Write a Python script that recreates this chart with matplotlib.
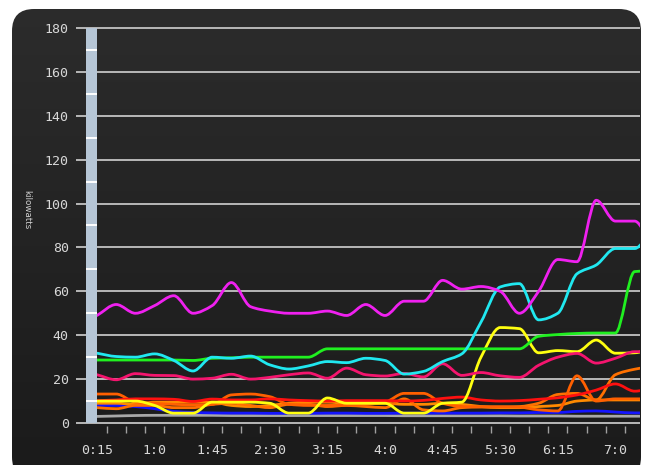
import numpy as np
import matplotlib
matplotlib.use("Agg")
import matplotlib.pyplot as plt
from matplotlib.path import Path
from matplotlib.patches import PathPatch, FancyBboxPatch, Rectangle

# sample times, minutes after midnight (every 15 min from 0:15)
times = [15 + 15 * k for k in range(30)]

tick_labels = ['0:15', '1:0', '1:45', '2:30', '3:15', '4:0', '4:45', '5:30', '6:15', '7:0']
tick_minutes = [15, 60, 105, 150, 195, 240, 285, 330, 375, 420]

gray = [3, 3.2, 3.4, 3.5, 3.5, 3.5, 3.5, 3.4, 3.4, 3.4, 3.4, 3.4, 3.4, 3.4, 3.4,
        3.4, 3.3, 3.3, 3.3, 3.3, 3.3, 3.3, 3.2, 3.2, 3.2, 3.1, 3.1, 3.1, 3.1, 3.1]
blue = [8, 8, 7.5, 6.5, 5.3, 4.8, 4.6, 4.5, 4.5, 4.4, 4.4, 4.4, 4.5, 4.5, 4.4,
        4.4, 4.5, 4.5, 4.5, 4.5, 4.5, 4.6, 4.6, 4.8, 4.8, 5.3, 5.5, 5, 4.6, 4.6]
orange_c = [9, 9, 8.5, 9.5, 9.5, 9.5, 9.5, 8, 7.5, 8, 9, 9.5, 9.5, 9, 9,
            9, 8.5, 8.5, 9, 8.5, 7.5, 7, 7, 7.5, 8, 10, 10.5, 10.5, 10.5, 10.5]
orange_b = [7, 6.5, 8, 8, 7, 7, 8.5, 9, 8, 7, 8.5, 8.5, 7.5, 8, 7.5,
            7, 11, 6, 5.5, 7, 7.3, 7.3, 7.5, 9, 13, 13.5, 10.5, 22, 24.5, 26]
orange_a = [13.2, 13.2, 9.5, 9, 8.5, 8.3, 8.5, 12.8, 13.2, 12, 8.5, 8, 8, 8.2, 8.5,
            9.5, 13.5, 13.5, 9, 7.5, 7.4, 7.4, 7.2, 6, 5.5, 21.5, 10, 11, 11, 11]
red = [10.2, 10.5, 11, 11, 10.8, 9.8, 10.9, 10.5, 10.5, 11, 10.5, 10.2, 10, 10.2, 10.2,
       10.2, 10, 10.3, 11.2, 11.8, 10.5, 10, 10.2, 10.8, 11.5, 12.8, 15, 17.8, 14.5, 16]
yellow = [10, 10, 10, 8, 4.5, 4.5, 9.5, 9.5, 9.5, 9, 4.5, 4.5, 11.4, 9, 9,
          9, 4.5, 4.5, 9, 9.5, 30, 43.5, 43, 32, 33, 32.5, 37.8, 31.8, 32, 34]
crimson = [22, 19.7, 22.5, 21.7, 21.6, 20, 20.4, 22.2, 20, 20.8, 22, 22.8, 20.4, 25, 22,
           21.4, 22.6, 21, 27, 21.7, 23, 21.5, 20.8, 26.3, 30, 31.7, 27.3, 29.5, 32.5, 32.5]
green = [28.7, 28.7, 28.7, 28.7, 28.7, 28.5, 29.5, 29.7, 30, 30, 30, 30, 33.8, 33.8, 33.8,
         33.8, 33.8, 33.8, 33.8, 33.8, 33.8, 33.8, 33.8, 39.5, 40.3, 40.8, 41, 41, 69, 69.5]
cyan = [31.8, 30.3, 30, 31.5, 28.5, 23.7, 30, 29.5, 30.5, 26.5, 24.6, 26, 28, 27.5, 29.5,
        28.5, 22.3, 23.5, 28, 31.5, 46, 62, 63.5, 47, 50, 68, 72, 79.5, 79.5, 90]
magenta = [49, 54, 50, 53.5, 58, 50, 53.5, 64, 53, 51, 50, 50, 51, 49, 54,
           49, 55.5, 55.5, 65, 61, 62.2, 60, 50, 60, 74.5, 73.5, 101.5, 92, 92, 78]

series = [
    (gray, '#a8a8a8'),
    (blue, '#1414ff'),
    (orange_c, '#ff8a00'),
    (orange_b, '#ff7000'),
    (orange_a, '#ff6000'),
    (red, '#ff1010'),
    (yellow, '#ffff10'),
    (crimson, '#f5146e'),
    (green, '#20f020'),
    (cyan, '#20e8f0'),
    (magenta, '#f020f0'),
]


def smooth_path(x, y):
    # monotone cubic through the points, drawn as bezier segments
    x = np.asarray(x, float)
    y = np.asarray(y, float)
    h = np.diff(x)
    d = np.diff(y) / h
    m = np.zeros_like(y)
    m[0], m[-1] = d[0], d[-1]
    for i in range(1, len(y) - 1):
        if d[i - 1] * d[i] > 0:
            m[i] = 2 / (1 / d[i - 1] + 1 / d[i])
    verts = [(x[0], y[0])]
    codes = [Path.MOVETO]
    for i in range(len(x) - 1):
        verts += [(x[i] + h[i] / 3, y[i] + m[i] * h[i] / 3),
                  (x[i + 1] - h[i] / 3, y[i + 1] - m[i + 1] * h[i] / 3),
                  (x[i + 1], y[i + 1])]
        codes += [Path.CURVE4] * 3
    return Path(verts, codes)


W, H = 648, 465
fig = plt.figure(figsize=(W / 100, H / 100), dpi=100)

# background panel (pixel coordinates)
bg = fig.add_axes([0, 0, 1, 1])
bg.set_xlim(0, W)
bg.set_ylim(H, 0)
bg.axis('off')
panel = FancyBboxPatch((12, 9), 629, 470, boxstyle="round,pad=0,rounding_size=22",
                       fc='none', ec='none')
bg.add_patch(panel)
grad = np.linspace(0, 1, 256).reshape(-1, 1)
im = bg.imshow(grad, extent=(0, W, H, 0), cmap=matplotlib.colors.LinearSegmentedColormap.from_list(
    'g', ['#2c2c2c', '#1b1b1b']), aspect='auto', origin='upper')
im.set_clip_path(panel)
bg.text(27, 210, 'kilowatts', rotation=270, color='#d0d0d0', fontsize=6.3,
        ha='center', va='center')

# plot area: left edge 86px, right 640px, 0 kW at 423px, 180 kW at 28px
px_per_min = 19.2 / 15
px_per_kw = 395 / 180
x0 = 15 - 11 / px_per_min
x1 = 15 + 543 / px_per_min
y_lo, y_hi = -1.5, 181.5
ax_left = 86 / W
ax_w = 554 / W
ax_bot = (H - (423 + 1.5 * px_per_kw)) / H
ax_h = (183 * px_per_kw) / H
ax = fig.add_axes([ax_left, ax_bot, ax_w, ax_h])
ax.set_facecolor('none')
ax.set_xlim(x0, x1)
ax.set_ylim(y_lo, y_hi)
for s in ax.spines.values():
    s.set_visible(False)

grid_col = '#b8b8b8'
ax.set_yticks(range(0, 181, 20))
ax.yaxis.grid(True, color=grid_col, lw=1.4)
ax.tick_params(axis='y', length=7.5, width=1.4, color=grid_col, pad=5,
               labelsize=9.5, labelcolor='#d8d8d8')

ax.set_xticks(tick_minutes)
ax.set_xticklabels(tick_labels)
ax.set_xticks([22.5 + 15 * j for j in range(28)], minor=True)
ax.tick_params(axis='x', which='major', length=0, pad=13, labelsize=9.5, labelcolor='#d8d8d8')
ax.tick_params(axis='x', which='minor', length=5, width=1, color='#a0a0a0', direction='out')
for lab in ax.get_xticklabels() + ax.get_yticklabels():
    lab.set_family('DejaVu Sans Mono')

# ruler bar on the left
ax.add_patch(Rectangle((x0, 0), 15 - x0, 180, fc='#b6c6d6', ec='none', zorder=4))
ax.hlines(range(10, 180, 20), x0, 15, colors='white', lw=1.4, zorder=5)

for vals, col in series:
    ax.add_patch(PathPatch(smooth_path(times, vals), fc='none', ec=col, lw=2.0,
                           capstyle='round', joinstyle='round', zorder=3))

fig.savefig('out.png', dpi=100)
